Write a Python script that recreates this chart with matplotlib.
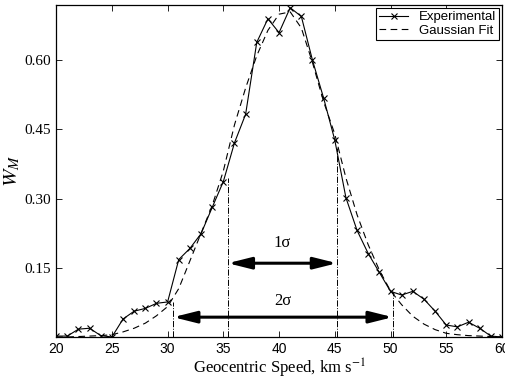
import numpy as np
import matplotlib
matplotlib.use('Agg')
from matplotlib import pyplot as plt

plt.rcParams['mathtext.fontset'] = 'stix'

speed = np.arange(20, 61)
w_exp = [0.002, 0.002, 0.017, 0.019, 0.003, 0.000, 0.039, 0.056, 0.062, 0.073,
         0.076, 0.168, 0.192, 0.224, 0.281, 0.337, 0.421, 0.483, 0.639, 0.690,
         0.660, 0.714, 0.695, 0.600, 0.518, 0.427, 0.302, 0.231, 0.181, 0.140,
         0.099, 0.091, 0.099, 0.082, 0.056, 0.026, 0.022, 0.032, 0.019, 0.002,
         0.000]
w_fit = [0.000, 0.000, 0.001, 0.002, 0.003, 0.005, 0.011, 0.019, 0.030, 0.046,
         0.066, 0.105, 0.165, 0.225, 0.285, 0.360, 0.460, 0.540, 0.610, 0.665,
         0.700, 0.705, 0.670, 0.595, 0.510, 0.440, 0.345, 0.265, 0.200, 0.145,
         0.100, 0.070, 0.045, 0.028, 0.016, 0.008, 0.005, 0.003, 0.002, 0.001,
         0.000]

# sigma markers: (x, height of dash-dot line)
sig1 = [(35.4, 0.345), (45.2, 0.41)]
sig2 = [(30.5, 0.075), (50.2, 0.095)]
arrow_y = [0.16, 0.043]
arrow_lbl = ['1σ', '2σ']
lbl_y = [0.203, 0.078]

fig = plt.figure(figsize=(5.06, 3.81), dpi=100)
ax = fig.add_axes([0.111, 0.1155, 0.881, 0.8715])

ax.plot(speed, w_exp, 'k-x', lw=0.8, ms=5, mew=0.8, label='Experimental')
ax.plot(speed, w_fit, 'k--', lw=0.8, dashes=(6, 4), label='Gaussian Fit')

for x, h in sig1 + sig2:
    ax.plot([x, x], [0, h], 'k-.', lw=0.7)

for (l, r), y, t, ty in zip([(sig1[0][0], sig1[1][0]), (sig2[0][0], sig2[1][0])],
                             arrow_y, arrow_lbl, lbl_y):
    ax.annotate('', xy=(l, y), xytext=(r, y),
                arrowprops=dict(arrowstyle='<|-|>,head_length=1.4,head_width=0.35',
                                lw=2.2, color='k', shrinkA=0, shrinkB=0))
    ax.text((l + r) / 2, ty, t, ha='center', va='center',
            family='Liberation Serif', fontsize=12)

ax.set_xlim(20, 60)
ax.set_ylim(0, 0.72)
ax.set_xticks(np.arange(20, 61, 5))
ax.set_yticks([0.15, 0.30, 0.45, 0.60])
ax.set_yticklabels(['0.15', '0.30', '0.45', '0.60'], family='Liberation Serif', fontsize=11)
for lab in ax.get_xticklabels():
    lab.set_family('Liberation Sans')
    lab.set_fontsize(10)
ax.tick_params(direction='in', top=True, right=True, length=4, width=0.6)
for s in ax.spines.values():
    s.set_linewidth(0.9)

ax.set_xlabel('Geocentric Speed, km s$^{-1}$', family='Liberation Serif', fontsize=12, labelpad=1)
ax.set_ylabel('$W_M$', fontsize=15, labelpad=2)

leg = ax.legend(loc='upper right', prop={'family': 'Liberation Sans', 'size': 9.5},
                fancybox=False, edgecolor='k', framealpha=1, borderpad=0.25,
                labelspacing=0.1, handlelength=2.2, borderaxespad=0.2)
leg.get_frame().set_linewidth(0.8)

plt.savefig('out.png', dpi=100)
